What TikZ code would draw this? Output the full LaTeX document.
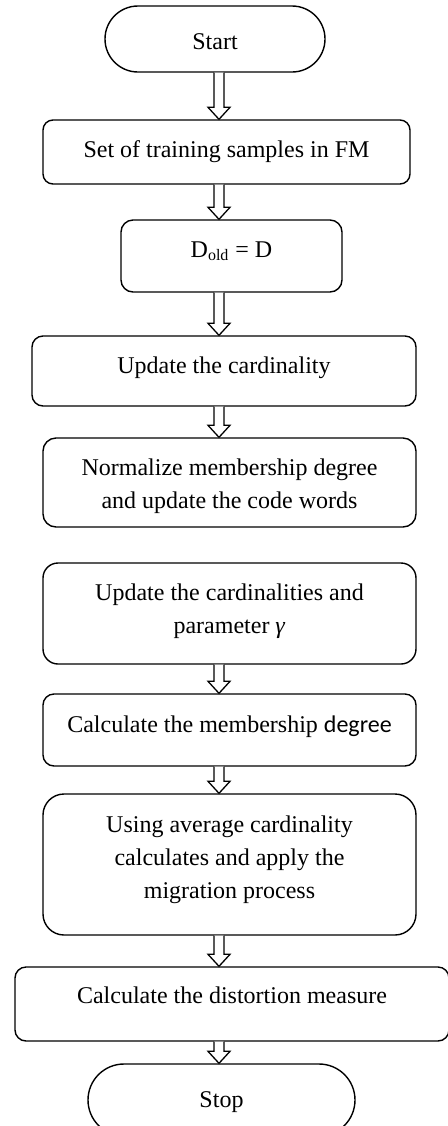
\documentclass[tikz,border=0pt]{standalone}
\usepackage{fontspec}
\setmainfont{Liberation Serif}
\newfontfamily\carl{Carlito}
\usetikzlibrary{calc}
\tikzset{
  box/.style={draw, line width=0.7pt, rectangle, inner sep=0pt},
  txt/.style={anchor=base, align=center, inner sep=0pt, font=\fontsize{12}{16.3}\selectfont},
  blk/.style={draw, fill=white, line width=0.65pt, line join=miter}
}
\newcommand\blockarrow[2]{\draw[blk] let \p0=(axis), \p1=(#1.south), \p2=(#2.north) in
  (\x0-2.5pt,\y1) -- (\x0-2.5pt,\y2+6pt) -- (\x0-5.5pt,\y2+6pt) -- (\x0,\y2) --
  (\x0+5.5pt,\y2+6pt) -- (\x0+2.5pt,\y2+6pt) -- (\x0+2.5pt,\y1);}
\begin{document}
\begin{tikzpicture}[x=0.5pt,y=-0.5pt]
\useasboundingbox (0,0) rectangle (448,1126);
\clip (0,0) rectangle (448,1126);
\fill[white] (0,0) rectangle (448,1126);
\coordinate (axis) at (219,0);
% boxes
\node[box, rounded corners=16.5pt, minimum width=110pt, minimum height=33pt] (start) at (215,39) {};
\node[box, rounded corners=5pt, minimum width=183.5pt, minimum height=32pt] (set) at (226.5,152) {};
\node[box, rounded corners=6pt, minimum width=110.5pt, minimum height=36pt] (dold) at (231.5,256) {};
\node[box, rounded corners=5.5pt, minimum width=192pt, minimum height=35pt] (upd1) at (224,371) {};
\node[box, rounded corners=6.5pt, minimum width=186.5pt, minimum height=44.5pt] (norm) at (229.5,482.5) {};
\node[box, rounded corners=7.5pt, minimum width=186.5pt, minimum height=50.5pt] (upd2) at (229.5,613.5) {};
\node[box, rounded corners=5.5pt, minimum width=186.5pt, minimum height=36pt] (calc) at (229.5,730) {};
\node[box, rounded corners=10.5pt, minimum width=186.5pt, minimum height=70.5pt] (using) at (229.5,864.5) {};
\node[box, rounded corners=5.5pt, minimum width=217pt, minimum height=37pt] (dist) at (232,1004) {};
\node[box, rounded corners=18pt, minimum width=133.5pt, minimum height=36pt] (stop) at (221.5,1100) {};
% texts (multi-line nodes are anchored on the baseline of their last line)
\node[txt] (start-t) at (215,49) {Start};
\node[txt] (set-t) at (226.5,157) {Set of training samples in FM};
\node[txt] (dold-t) at (231.5,257) {D\textsubscript{old} = D};
\node[txt] (upd1-t) at (224,373) {Update the cardinality};
\node[txt] (norm-t) at (229.5,508) {Normalize membership degree\\and update the code words};
\node[txt] (upd2-t) at (229.5,633) {Update the cardinalities and\\parameter \textit{γ}};
\node[txt] (calc-t) at (229.5,732) {Calculate the membership {\carl degree}};
\node[txt] (using-t) at (229.5,898) {Using average cardinality\\calculates and apply the\\migration process};
\node[txt] (dist-t) at (232,1003) {Calculate the distortion measure};
\node[txt] (stop-t) at (221.5,1107) {Stop};
% arrows
\blockarrow{start}{set}
\blockarrow{set}{dold}
\blockarrow{dold}{upd1}
\blockarrow{upd1}{norm}
\blockarrow{upd2}{calc}
\blockarrow{calc}{using}
\blockarrow{using}{dist}
\blockarrow{dist}{stop}
\end{tikzpicture}
\end{document}
